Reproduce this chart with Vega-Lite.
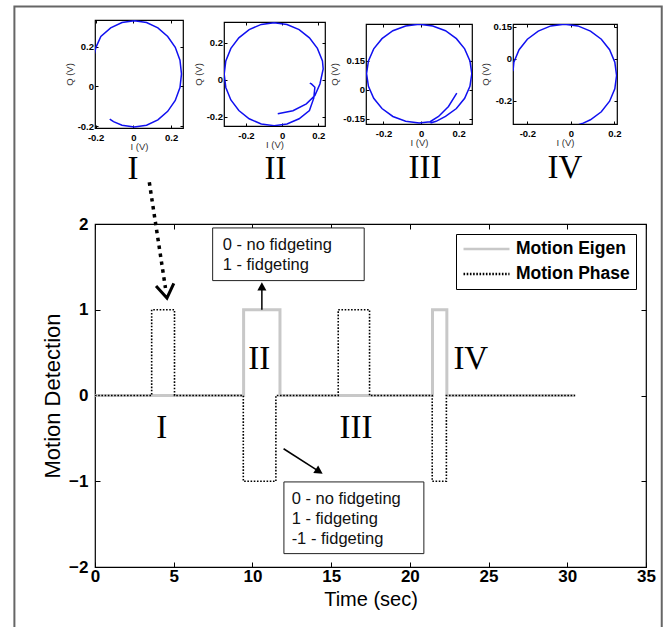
{
  "$schema": "https://vega.github.io/schema/vega-lite/v6.json",
  "padding": {"left": 12, "top": 4, "right": 5, "bottom": 5},
  "autosize": {"type": "pad"},
  "background": "white",
  "bounds": "flush",
  "spacing": 204,
  "datasets": {
    "motion": [
      {"series": "Motion Eigen", "k": 0, "t": 0, "v": 0},
      {"series": "Motion Eigen", "k": 1, "t": 9.44, "v": 0},
      {"series": "Motion Eigen", "k": 2, "t": 9.44, "v": 1},
      {"series": "Motion Eigen", "k": 3, "t": 11.75, "v": 1},
      {"series": "Motion Eigen", "k": 4, "t": 11.75, "v": 0},
      {"series": "Motion Eigen", "k": 5, "t": 21.44, "v": 0},
      {"series": "Motion Eigen", "k": 6, "t": 21.44, "v": 1},
      {"series": "Motion Eigen", "k": 7, "t": 22.35, "v": 1},
      {"series": "Motion Eigen", "k": 8, "t": 22.35, "v": 0},
      {"series": "Motion Eigen", "k": 9, "t": 30.5, "v": 0},
      {"series": "Motion Phase", "k": 0, "t": 0, "v": 0},
      {"series": "Motion Phase", "k": 1, "t": 3.6, "v": 0},
      {"series": "Motion Phase", "k": 2, "t": 3.6, "v": 1},
      {"series": "Motion Phase", "k": 3, "t": 5.05, "v": 1},
      {"series": "Motion Phase", "k": 4, "t": 5.05, "v": 0},
      {"series": "Motion Phase", "k": 5, "t": 9.42, "v": 0},
      {"series": "Motion Phase", "k": 6, "t": 9.42, "v": -1},
      {"series": "Motion Phase", "k": 7, "t": 11.49, "v": -1},
      {"series": "Motion Phase", "k": 8, "t": 11.49, "v": 0},
      {"series": "Motion Phase", "k": 9, "t": 15.45, "v": 0},
      {"series": "Motion Phase", "k": 10, "t": 15.45, "v": 1},
      {"series": "Motion Phase", "k": 11, "t": 17.44, "v": 1},
      {"series": "Motion Phase", "k": 12, "t": 17.44, "v": 0},
      {"series": "Motion Phase", "k": 13, "t": 21.42, "v": 0},
      {"series": "Motion Phase", "k": 14, "t": 21.42, "v": -1},
      {"series": "Motion Phase", "k": 15, "t": 22.32, "v": -1},
      {"series": "Motion Phase", "k": 16, "t": 22.32, "v": 0},
      {"series": "Motion Phase", "k": 17, "t": 30.5, "v": 0}
    ],
    "labels": [
      {"t": 4.24, "v": -0.49, "label": "I"},
      {"t": 10.43, "v": 0.31, "label": "II"},
      {"t": 16.58, "v": -0.49, "label": "III"},
      {"t": 23.87, "v": 0.31, "label": "IV"}
    ],
    "p1": [
      {"k": 0, "I": -0.21, "Q": 0.15}, {"k": 1, "I": -0.198, "Q": 0.197}, {"k": 2, "I": -0.172, "Q": 0.252},
      {"k": 3, "I": -0.12, "Q": 0.295}, {"k": 4, "I": -0.06, "Q": 0.322}, {"k": 5, "I": 0.005, "Q": 0.331},
      {"k": 6, "I": 0.07, "Q": 0.322}, {"k": 7, "I": 0.13, "Q": 0.295}, {"k": 8, "I": 0.182, "Q": 0.252},
      {"k": 9, "I": 0.222, "Q": 0.197}, {"k": 10, "I": 0.247, "Q": 0.132}, {"k": 11, "I": 0.255, "Q": 0.063},
      {"k": 12, "I": 0.247, "Q": -0.006}, {"k": 13, "I": 0.222, "Q": -0.071}, {"k": 14, "I": 0.182, "Q": -0.126},
      {"k": 15, "I": 0.13, "Q": -0.169}, {"k": 16, "I": 0.07, "Q": -0.196}, {"k": 17, "I": 0.005, "Q": -0.205},
      {"k": 18, "I": -0.06, "Q": -0.196}, {"k": 19, "I": -0.105, "Q": -0.178}, {"k": 20, "I": -0.125, "Q": -0.165}
    ],
    "p2": [
      {"k": 0, "I": -0.024, "Q": -0.185}, {"k": 1, "I": 0.06, "Q": -0.168}, {"k": 2, "I": 0.134, "Q": -0.131},
      {"k": 3, "I": 0.181, "Q": -0.086}, {"k": 4, "I": 0.209, "Q": -0.023}, {"k": 5, "I": 0.227, "Q": 0.058},
      {"k": 6, "I": 0.223, "Q": 0.102}, {"k": 7, "I": 0.195, "Q": 0.17}, {"k": 8, "I": 0.151, "Q": 0.227},
      {"k": 9, "I": 0.094, "Q": 0.272}, {"k": 10, "I": 0.027, "Q": 0.299}, {"k": 11, "I": -0.044, "Q": 0.309},
      {"k": 12, "I": -0.115, "Q": 0.3}, {"k": 13, "I": -0.182, "Q": 0.272}, {"k": 14, "I": -0.239, "Q": 0.227},
      {"k": 15, "I": -0.283, "Q": 0.17}, {"k": 16, "I": -0.311, "Q": 0.102}, {"k": 17, "I": -0.32, "Q": 0.03},
      {"k": 18, "I": -0.311, "Q": -0.042}, {"k": 19, "I": -0.283, "Q": -0.11}, {"k": 20, "I": -0.239, "Q": -0.167},
      {"k": 21, "I": -0.182, "Q": -0.212}, {"k": 22, "I": -0.115, "Q": -0.24}, {"k": 23, "I": -0.044, "Q": -0.249},
      {"k": 24, "I": 0.027, "Q": -0.24}, {"k": 25, "I": 0.094, "Q": -0.212}, {"k": 26, "I": 0.151, "Q": -0.167},
      {"k": 27, "I": 0.175, "Q": -0.1}, {"k": 28, "I": 0.181, "Q": -0.041}, {"k": 29, "I": 0.162, "Q": -0.023},
      {"k": 30, "I": 0.153, "Q": -0.018}
    ],
    "p3": [
      {"k": 0, "I": 0.19, "Q": -0.017}, {"k": 1, "I": 0.146, "Q": -0.086}, {"k": 2, "I": 0.093, "Q": -0.138},
      {"k": 3, "I": 0.048, "Q": -0.165}, {"k": 4, "I": -0.01, "Q": -0.172}, {"k": 5, "I": -0.082, "Q": -0.163},
      {"k": 6, "I": -0.15, "Q": -0.138}, {"k": 7, "I": -0.208, "Q": -0.097}, {"k": 8, "I": -0.252, "Q": -0.044},
      {"k": 9, "I": -0.28, "Q": 0.018}, {"k": 10, "I": -0.29, "Q": 0.084}, {"k": 11, "I": -0.28, "Q": 0.15},
      {"k": 12, "I": -0.252, "Q": 0.212}, {"k": 13, "I": -0.208, "Q": 0.265}, {"k": 14, "I": -0.15, "Q": 0.306},
      {"k": 15, "I": -0.082, "Q": 0.331}, {"k": 16, "I": -0.01, "Q": 0.34}, {"k": 17, "I": 0.062, "Q": 0.331},
      {"k": 18, "I": 0.13, "Q": 0.306}, {"k": 19, "I": 0.188, "Q": 0.265}, {"k": 20, "I": 0.232, "Q": 0.212},
      {"k": 21, "I": 0.26, "Q": 0.15}, {"k": 22, "I": 0.27, "Q": 0.084}, {"k": 23, "I": 0.26, "Q": 0.018},
      {"k": 24, "I": 0.232, "Q": -0.044}, {"k": 25, "I": 0.188, "Q": -0.097}, {"k": 26, "I": 0.13, "Q": -0.138},
      {"k": 27, "I": 0.08, "Q": -0.163}, {"k": 28, "I": 0.05, "Q": -0.172}
    ],
    "p4": [
      {"k": 0, "I": -0.266, "Q": -0.06}, {"k": 1, "I": -0.262, "Q": -0.017}, {"k": 2, "I": -0.238, "Q": 0.042},
      {"k": 3, "I": -0.2, "Q": 0.092}, {"k": 4, "I": -0.15, "Q": 0.13}, {"k": 5, "I": -0.092, "Q": 0.155},
      {"k": 6, "I": -0.03, "Q": 0.163}, {"k": 7, "I": 0.032, "Q": 0.155}, {"k": 8, "I": 0.09, "Q": 0.13},
      {"k": 9, "I": 0.14, "Q": 0.092}, {"k": 10, "I": 0.178, "Q": 0.042}, {"k": 11, "I": 0.202, "Q": -0.017},
      {"k": 12, "I": 0.21, "Q": -0.08}, {"k": 13, "I": 0.202, "Q": -0.143}, {"k": 14, "I": 0.178, "Q": -0.202},
      {"k": 15, "I": 0.14, "Q": -0.252}, {"k": 16, "I": 0.09, "Q": -0.29}, {"k": 17, "I": 0.052, "Q": -0.308},
      {"k": 18, "I": 0.03, "Q": -0.315}
    ]
  },
  "vconcat": [
    {
      "bounds": "flush",
      "spacing": 41,
      "center": true,
      "hconcat": [
        {
          "width": 88, "height": 108,
          "data": {"name": "p1"},
          "title": {"text": "I", "orient": "bottom", "anchor": "middle", "frame": "group", "font": "Liberation Serif", "fontSize": 33, "fontWeight": "normal", "baseline": "alphabetic", "offset": 28, "dx": -6, "color": "black"},
          "layer": [
            {"mark": {"type": "line", "color": "#1010f0", "strokeWidth": 1.5, "clip": true},
             "encoding": {
               "x": {"field": "I", "type": "quantitative", "scale": {"domain": [-0.203, 0.263], "nice": false, "zero": false}, "axis": {"values": [-0.2, 0, 0.2], "labelExpr": "'' + datum.value", "title": "I (V)"}},
               "y": {"field": "Q", "type": "quantitative", "scale": {"domain": [-0.21, 0.335], "nice": false, "zero": false}, "axis": {"values": [-0.2, 0, 0.2], "labelExpr": "'' + datum.value", "title": "Q (V)"}},
               "order": {"field": "k"}}},
            {"mark": {"type": "line", "opacity": 0},
             "encoding": {
               "x": {"field": "I", "type": "quantitative", "axis": {"orient": "top", "values": [-0.2, 0, 0.2], "labels": false, "title": null}},
               "y": {"field": "Q", "type": "quantitative", "axis": {"orient": "right", "values": [-0.2, 0, 0.2], "labels": false, "title": null}},
               "order": {"field": "k"}}}
          ],
          "resolve": {"axis": {"x": "independent", "y": "independent"}}
        },
        {
          "width": 101, "height": 104,
          "data": {"name": "p2"},
          "title": {"text": "II", "orient": "bottom", "anchor": "middle", "frame": "group", "font": "Liberation Serif", "fontSize": 33, "fontWeight": "normal", "baseline": "alphabetic", "offset": 30, "dx": 1, "color": "black"},
          "layer": [
            {"mark": {"type": "line", "color": "#1010f0", "strokeWidth": 1.5, "clip": true},
             "encoding": {
               "x": {"field": "I", "type": "quantitative", "scale": {"domain": [-0.321, 0.237], "nice": false, "zero": false}, "axis": {"values": [-0.2, 0, 0.2], "labelExpr": "'' + datum.value", "title": "I (V)"}},
               "y": {"field": "Q", "type": "quantitative", "scale": {"domain": [-0.251, 0.313], "nice": false, "zero": false}, "axis": {"values": [-0.2, 0, 0.2], "labelExpr": "'' + datum.value", "title": "Q (V)"}},
               "order": {"field": "k"}}},
            {"mark": {"type": "line", "opacity": 0},
             "encoding": {
               "x": {"field": "I", "type": "quantitative", "axis": {"orient": "top", "values": [-0.2, 0, 0.2], "labels": false, "title": null}},
               "y": {"field": "Q", "type": "quantitative", "axis": {"orient": "right", "values": [-0.2, 0, 0.2], "labels": false, "title": null}},
               "order": {"field": "k"}}}
          ],
          "resolve": {"axis": {"x": "independent", "y": "independent"}}
        },
        {
          "width": 106, "height": 100,
          "data": {"name": "p3"},
          "title": {"text": "III", "orient": "bottom", "anchor": "middle", "frame": "group", "font": "Liberation Serif", "fontSize": 33, "fontWeight": "normal", "baseline": "alphabetic", "offset": 31, "dx": 6, "color": "black"},
          "layer": [
            {"mark": {"type": "line", "color": "#1010f0", "strokeWidth": 1.5, "clip": true},
             "encoding": {
               "x": {"field": "I", "type": "quantitative", "scale": {"domain": [-0.293, 0.271], "nice": false, "zero": false}, "axis": {"values": [-0.2, 0, 0.2], "labelExpr": "'' + datum.value", "title": "I (V)"}},
               "y": {"field": "Q", "type": "quantitative", "scale": {"domain": [-0.177, 0.341], "nice": false, "zero": false}, "axis": {"values": [-0.15, 0, 0.15], "labelExpr": "'' + datum.value", "title": "Q (V)"}},
               "order": {"field": "k"}}},
            {"mark": {"type": "line", "opacity": 0},
             "encoding": {
               "x": {"field": "I", "type": "quantitative", "axis": {"orient": "top", "values": [-0.2, 0, 0.2], "labels": false, "title": null}},
               "y": {"field": "Q", "type": "quantitative", "axis": {"orient": "right", "values": [-0.15, 0, 0.15], "labels": false, "title": null}},
               "order": {"field": "k"}}}
          ],
          "resolve": {"axis": {"x": "independent", "y": "independent"}}
        },
        {
          "width": 104, "height": 100,
          "data": {"name": "p4"},
          "title": {"text": "IV", "orient": "bottom", "anchor": "middle", "frame": "group", "font": "Liberation Serif", "fontSize": 33, "fontWeight": "normal", "baseline": "alphabetic", "offset": 31, "color": "black"},
          "layer": [
            {"mark": {"type": "line", "color": "#1010f0", "strokeWidth": 1.5, "clip": true},
             "encoding": {
               "x": {"field": "I", "type": "quantitative", "scale": {"domain": [-0.266, 0.212], "nice": false, "zero": false}, "axis": {"values": [-0.2, 0, 0.2], "labelExpr": "'' + datum.value", "title": "I (V)"}},
               "y": {"field": "Q", "type": "quantitative", "scale": {"domain": [-0.31, 0.164], "nice": false, "zero": false}, "axis": {"values": [-0.2, 0, 0.15], "labelExpr": "'' + datum.value", "title": "Q (V)"}},
               "order": {"field": "k"}}},
            {"mark": {"type": "line", "opacity": 0},
             "encoding": {
               "x": {"field": "I", "type": "quantitative", "axis": {"orient": "top", "values": [-0.2, 0, 0.2], "labels": false, "title": null}},
               "y": {"field": "Q", "type": "quantitative", "axis": {"orient": "right", "values": [-0.2, 0, 0.15], "labels": false, "title": null}},
               "order": {"field": "k"}}}
          ],
          "resolve": {"axis": {"x": "independent", "y": "independent"}}
        }
      ]
    },
    {
      "width": 551,
      "height": 343,
      "layer": [
        {
          "data": {"values": [{}]},
          "mark": {"type": "rect", "filled": false, "color": "#666666", "strokeWidth": 2},
          "encoding": {
            "x": {"datum": -5.12, "type": "quantitative", "axis": null},
            "x2": {"datum": 36.0},
            "y": {"datum": 4.536, "type": "quantitative", "axis": null},
            "y2": {"datum": -2.85}
          }
        },
        {
          "data": {"name": "motion"},
          "mark": {"type": "line", "strokeCap": "butt", "strokeJoin": "miter"},
          "encoding": {
            "x": {"field": "t", "type": "quantitative",
                  "scale": {"domain": [0, 35], "nice": false, "zero": false},
                  "axis": {"values": [0, 5, 10, 15, 20, 25, 30, 35], "tickSize": -5, "labelPadding": 6, "labelFontSize": 17, "title": "Time (sec)", "titleFontSize": 20, "titlePadding": 5, "titleColor": "black"}},
            "y": {"field": "v", "type": "quantitative",
                  "scale": {"domain": [-2, 2], "nice": false, "zero": false},
                  "axis": {"values": [-2, -1, 0, 1, 2], "tickSize": -5, "labelPadding": 12, "labelFontSize": 17, "title": "Motion Detection", "titleFontSize": 22, "titlePadding": 4, "titleColor": "black"}},
            "order": {"field": "k"},
            "color": {"field": "series", "type": "nominal",
                      "scale": {"domain": ["Motion Eigen", "Motion Phase"], "range": ["#c8c8c8", "#000000"]},
                      "legend": {"title": null}},
            "strokeDash": {"field": "series", "type": "nominal",
                           "scale": {"domain": ["Motion Eigen", "Motion Phase"], "range": [[1, 0], [1.6, 1.6]]},
                           "legend": {"title": null}},
            "strokeWidth": {"condition": {"test": "datum.series === 'Motion Eigen'", "value": 3}, "value": 1.6}
          }
        },
        {
          "data": {"values": [{}]},
          "mark": {"type": "point", "opacity": 0},
          "encoding": {
            "x": {"datum": 0, "type": "quantitative", "axis": {"orient": "top", "values": [0, 5, 10, 15, 20, 25, 30, 35], "labels": false, "title": null, "tickSize": -5}},
            "y": {"datum": 0, "type": "quantitative", "axis": {"orient": "right", "values": [-2, -1, 0, 1, 2], "labels": false, "title": null, "tickSize": -5}}
          }
        },
        {
          "data": {"name": "labels"},
          "mark": {"type": "text", "font": "Liberation Serif", "fontSize": 33, "baseline": "alphabetic", "align": "center", "color": "black"},
          "encoding": {
            "x": {"field": "t", "type": "quantitative", "axis": null},
            "y": {"field": "v", "type": "quantitative", "axis": null},
            "text": {"field": "label"}
          }
        },
        {
          "data": {"values": [{}]},
          "mark": {"type": "rect", "fill": "white", "stroke": "#222222", "strokeWidth": 1},
          "encoding": {
            "x": {"datum": 7.473, "type": "quantitative", "axis": null}, "x2": {"datum": 17.1},
            "y": {"datum": 1.954, "type": "quantitative", "axis": null}, "y2": {"datum": 1.34}
          }
        },
        {
          "data": {"values": [{}]},
          "mark": {"type": "rect", "fill": "white", "stroke": "#222222", "strokeWidth": 1},
          "encoding": {
            "x": {"datum": 12.0, "type": "quantitative", "axis": null}, "x2": {"datum": 20.89},
            "y": {"datum": -1.008, "type": "quantitative", "axis": null}, "y2": {"datum": -1.844}
          }
        },
        {
          "data": {"values": [{}]},
          "mark": {"type": "text", "font": "Liberation Sans", "fontSize": 16.5, "align": "left", "baseline": "alphabetic", "lineHeight": 20, "color": "#111111"},
          "encoding": {
            "x": {"datum": 8.11, "type": "quantitative", "axis": null},
            "y": {"datum": 1.697, "type": "quantitative", "axis": null},
            "text": {"value": ["0 - no fidgeting", "1 - fidgeting"]}
          }
        },
        {
          "data": {"values": [{}]},
          "mark": {"type": "text", "font": "Liberation Sans", "fontSize": 16.5, "align": "left", "baseline": "alphabetic", "lineHeight": 20, "color": "#111111"},
          "encoding": {
            "x": {"datum": 12.49, "type": "quantitative", "axis": null},
            "y": {"datum": -1.262, "type": "quantitative", "axis": null},
            "text": {"value": ["0 - no fidgeting", "1 - fidgeting", "-1 - fidgeting"]}
          }
        },
        {
          "data": {"values": [{}]},
          "mark": {"type": "rule", "color": "black", "strokeWidth": 1.5},
          "encoding": {
            "x": {"datum": 10.6, "type": "quantitative", "axis": null},
            "y": {"datum": 1.0, "type": "quantitative", "axis": null},
            "y2": {"datum": 1.25}
          }
        },
        {
          "data": {"values": [{}]},
          "mark": {"type": "point", "shape": "M0,0L-0.55,1L0.55,1Z", "size": 270, "filled": true, "color": "black", "opacity": 1, "strokeWidth": 0, "angle": 0},
          "encoding": {
            "x": {"datum": 10.6, "type": "quantitative", "axis": null},
            "y": {"datum": 1.32, "type": "quantitative", "axis": null}
          }
        },
        {
          "data": {"values": [{}]},
          "mark": {"type": "rule", "color": "black", "strokeWidth": 1.5},
          "encoding": {
            "x": {"datum": 11.98, "type": "quantitative", "axis": null},
            "y": {"datum": -0.621, "type": "quantitative", "axis": null},
            "x2": {"datum": 14.1},
            "y2": {"datum": -0.87}
          }
        },
        {
          "data": {"values": [{}]},
          "mark": {"type": "point", "shape": "M0,0L-0.55,1L0.55,1Z", "size": 270, "filled": true, "color": "black", "opacity": 1, "strokeWidth": 0, "angle": 122.7},
          "encoding": {
            "x": {"datum": 14.46, "type": "quantitative", "axis": null},
            "y": {"datum": -0.912, "type": "quantitative", "axis": null}
          }
        },
        {
          "data": {"values": [{}]},
          "mark": {"type": "rule", "color": "black", "strokeWidth": 3.5, "strokeDash": [3.5, 4.5], "strokeCap": "butt"},
          "encoding": {
            "x": {"datum": 3.45, "type": "quantitative", "axis": null},
            "y": {"datum": 2.486, "type": "quantitative", "axis": null},
            "x2": {"datum": 4.476},
            "y2": {"datum": 1.254}
          }
        },
        {
          "data": {"values": [{}]},
          "mark": {"type": "point", "shape": "M-1,1.5L0,0L1,1.5", "size": 324, "filled": false, "color": "black", "opacity": 1, "strokeWidth": 3, "angle": 171.3},
          "encoding": {
            "x": {"datum": 4.571, "type": "quantitative", "axis": null},
            "y": {"datum": 1.137, "type": "quantitative", "axis": null}
          }
        }
      ],
      "resolve": {"axis": {"x": "independent", "y": "independent"}}
    }
  ],
  "resolve": {"legend": {"color": "independent", "strokeDash": "independent"}},
  "config": {
    "font": "Liberation Sans",
    "view": {"stroke": "black", "strokeWidth": 1.2},
    "axis": {
      "grid": false, "domain": false, "tickColor": "black", "tickWidth": 1, "tickSize": -3,
      "labelColor": "black", "labelFont": "Liberation Sans", "labelFontWeight": "bold", "labelFontSize": 9.5,
      "labelFlush": false, "labelOverlap": false,
      "titleFont": "Liberation Sans", "titleFontWeight": "normal", "titleFontSize": 9.5, "titleColor": "#333333"
    },
    "axisX": {"labelPadding": 7, "titlePadding": 0},
    "axisY": {"labelPadding": 4.5, "titlePadding": 3},
    "legend": {
      "orient": "top-right", "offset": 10, "symbolType": "stroke", "symbolSize": 2116, "symbolStrokeWidth": 2.4,
      "clipHeight": 18,
      "labelFont": "Liberation Sans", "labelFontSize": 17.5, "labelFontWeight": "bold", "labelColor": "black",
      "labelOffset": 5, "padding": 6, "rowPadding": 7, "strokeColor": "black", "fillColor": "white"
    }
  }
}
